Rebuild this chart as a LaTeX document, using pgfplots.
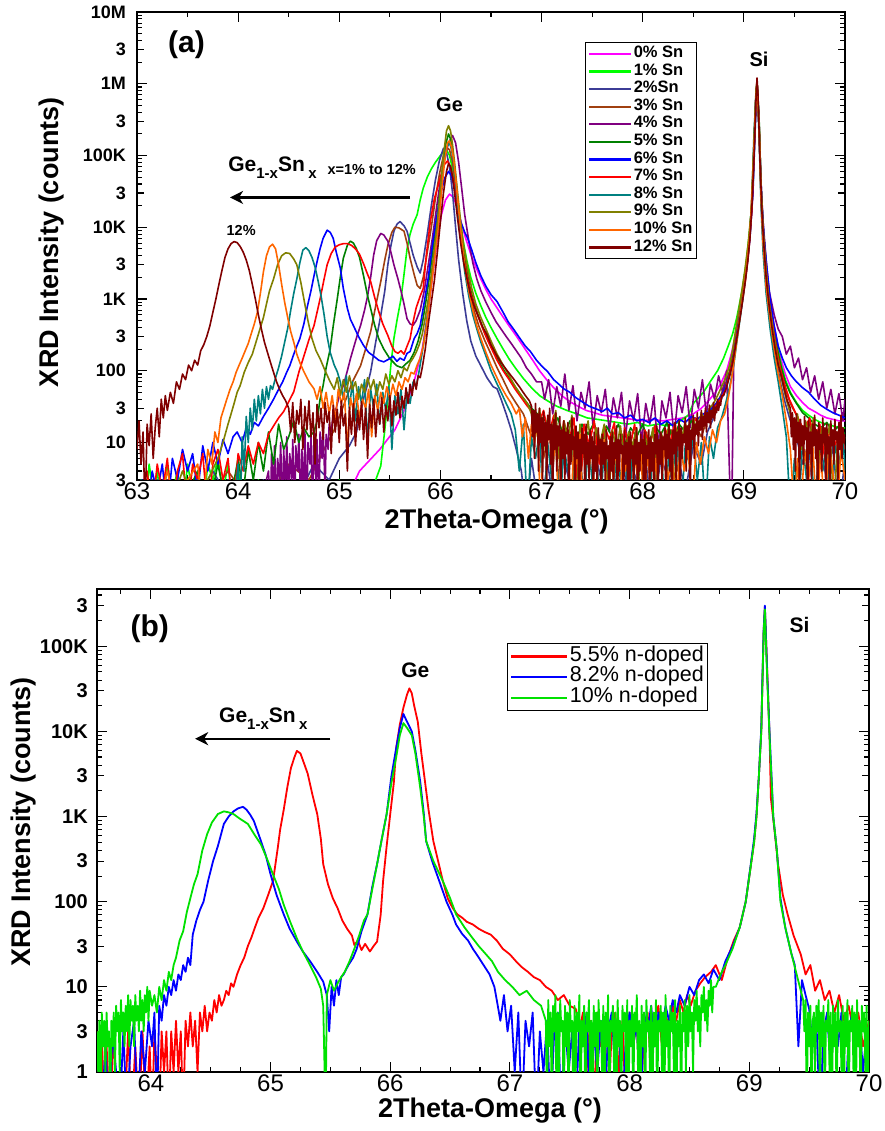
\documentclass[border=0pt]{standalone}
\usepackage{pgfplots}
\usepackage{pgfplotstable}
\pgfplotsset{compat=1.18}
\usepackage{fontspec}
\setmainfont{Liberation Sans}
\usetikzlibrary{arrows.meta}

\definecolor{c0}{RGB}{255,0,255}
\definecolor{c1}{RGB}{0,255,0}
\definecolor{c2}{RGB}{60,60,150}
\definecolor{c3}{RGB}{160,64,16}
\definecolor{c4}{RGB}{128,0,128}
\definecolor{c5}{RGB}{0,128,0}
\definecolor{c6}{RGB}{0,0,255}
\definecolor{c7}{RGB}{255,0,0}
\definecolor{c8}{RGB}{0,128,128}
\definecolor{c9}{RGB}{128,128,0}
\definecolor{c10}{RGB}{255,102,0}
\definecolor{c12}{RGB}{128,0,0}
\definecolor{gB}{RGB}{0,225,0}

% ---------- panel (a): Ge1-xSn x series ----------
\pgfplotstableread[row sep=\\]{x y\\
63.00 1\\ 63.20 3\\ 63.40 1\\ 63.60 3\\ 63.80 1\\ 64.00 3\\ 64.20 1\\ 64.40 3\\ 64.60 1\\ 64.80 3\\ 65.00 1\\ 65.20 4\\ 65.40 8\\ 65.55 15\\ 65.65 30\\ 65.75 80\\ 65.82 200\\ 65.88 700\\ 65.93 2500\\ 65.97 7000\\ 66.01 15000\\ 66.05 24000\\ 66.09 29000\\ 66.13 26000\\ 66.17 18000\\ 66.21 11000\\ 66.25 7000\\ 66.30 4200\\ 66.35 2800\\ 66.40 1900\\ 66.45 1350\\ 66.50 1000\\ 66.56 750\\ 66.62 560\\ 66.68 420\\ 66.74 320\\ 66.80 240\\ 66.86 180\\ 66.92 135\\ 66.98 100\\ 67.05 75\\ 67.12 58\\ 67.20 45\\ 67.28 37\\ 67.36 32\\ 67.44 28\\ 67.52 26\\ 67.60 24\\ 67.70 23\\ 67.80 22\\ 67.90 21\\ 68.00 20\\ 68.10 21\\ 68.20 20\\ 68.30 21\\ 68.40 22\\ 68.50 25\\ 68.58 30\\ 68.65 38\\ 68.72 50\\ 68.78 70\\ 68.83 100\\ 68.88 180\\ 68.92 330\\ 68.96 650\\ 68.99 1200\\ 69.02 2400\\ 69.05 6000\\ 69.08 22000\\ 69.10 130000\\ 69.12 700000\\ 69.13 1000000\\ 69.15 300000\\ 69.17 35000\\ 69.19 10000\\ 69.22 3000\\ 69.25 1200\\ 69.29 500\\ 69.33 250\\ 69.37 140\\ 69.41 90\\ 69.46 60\\ 69.52 45\\ 69.58 36\\ 69.64 30\\ 69.70 27\\ 69.76 24\\ 69.82 22\\ 69.88 21\\ 69.94 20\\ 70.00 20\\
}\snZero

\pgfplotstableread[row sep=\\]{x y\\
63.00 1\\ 63.04 3\\ 63.08 1\\ 63.12 5\\ 63.16 2\\ 63.20 4\\ 63.25 1\\ 63.30 5\\ 63.35 2\\ 63.40 4\\ 63.45 1\\ 63.50 5\\ 63.55 2\\ 63.60 4\\ 63.65 1\\ 63.70 5\\ 63.75 3\\ 63.80 6\\ 63.85 2\\ 63.90 5\\ 63.95 1\\ 64.00 4\\ 64.10 1\\ 64.20 3\\ 64.30 1\\ 64.40 3\\ 64.55 1\\ 64.70 3\\ 64.85 1\\ 65.00 3\\ 65.10 1\\ 65.20 3\\ 65.30 1\\ 65.36 3\\ 65.41 4.7\\ 65.45 15\\ 65.48 41\\ 65.51 120\\ 65.54 280\\ 65.57 500\\ 65.61 1000\\ 65.64 2200\\ 65.67 5000\\ 65.70 8000\\ 65.73 11000\\ 65.77 15000\\ 65.80 24000\\ 65.83 35000\\ 65.87 50000\\ 65.91 65000\\ 65.95 80000\\ 66.00 100000\\ 66.04 115000\\ 66.06 120000\\ 66.09 100000\\ 66.12 65000\\ 66.15 35000\\ 66.18 16000\\ 66.22 7000\\ 66.26 3500\\ 66.30 2000\\ 66.35 1200\\ 66.40 800\\ 66.45 550\\ 66.50 400\\ 66.56 280\\ 66.62 200\\ 66.68 145\\ 66.75 105\\ 66.82 78\\ 66.90 58\\ 66.98 45\\ 67.06 38\\ 67.15 32\\ 67.25 28\\ 67.35 25\\ 67.45 22\\ 67.55 21\\ 67.65 20\\ 67.75 19\\ 67.85 18\\ 67.95 19\\ 68.05 17\\ 68.15 18\\ 68.25 17\\ 68.35 19\\ 68.45 24\\ 68.50 35\\ 68.60 50\\ 68.68 75\\ 68.74 100\\ 68.80 150\\ 68.85 230\\ 68.89 330\\ 68.93 550\\ 68.96 900\\ 68.99 1500\\ 69.02 3000\\ 69.05 7000\\ 69.08 22000\\ 69.10 130000\\ 69.12 700000\\ 69.13 1050000\\ 69.15 300000\\ 69.17 35000\\ 69.19 10000\\ 69.22 3000\\ 69.25 1100\\ 69.29 450\\ 69.33 220\\ 69.37 120\\ 69.41 75\\ 69.46 50\\ 69.52 36\\ 69.58 28\\ 69.64 24\\ 69.70 21\\ 69.76 19\\ 69.82 18\\ 69.88 17\\ 69.94 16\\ 70.00 16\\
}\snOne

\pgfplotstableread[row sep=\\]{x y\\
63.00 1\\ 63.25 3\\ 63.50 1\\ 63.75 4\\ 64.00 1\\ 64.25 3\\ 64.50 1\\ 64.75 5\\ 64.90 3\\ 65.00 6\\ 65.10 9\\ 65.17 14\\ 65.24 41\\ 65.28 65\\ 65.31 97\\ 65.36 250\\ 65.41 590\\ 65.45 1300\\ 65.48 3000\\ 65.51 5500\\ 65.54 8800\\ 65.57 11000\\ 65.60 12000\\ 65.64 10500\\ 65.67 8800\\ 65.70 6000\\ 65.73 4100\\ 65.77 2800\\ 65.80 2300\\ 65.83 3500\\ 65.87 8000\\ 65.91 20000\\ 65.95 45000\\ 65.99 85000\\ 66.03 126000\\ 66.06 110000\\ 66.09 70000\\ 66.12 30000\\ 66.15 10000\\ 66.18 3500\\ 66.22 1200\\ 66.26 500\\ 66.30 260\\ 66.35 160\\ 66.40 117\\ 66.46 80\\ 66.52 60\\ 66.56 56\\ 66.60 40\\ 66.65 25\\ 66.70 15\\ 66.75 8\\ 66.80 4\\ 66.85 1\\ 66.90 6\\ 66.98 1\\ 67.06 5\\ 67.14 1\\ 67.22 6\\ 67.30 2\\ 67.38 5\\ 67.46 1\\ 67.54 6\\ 67.62 2\\ 67.70 5\\ 67.78 1\\ 67.86 6\\ 67.94 3\\ 68.02 7\\ 68.10 1\\ 68.18 6\\ 68.26 3\\ 68.34 8\\ 68.42 2\\ 68.50 9\\ 68.58 5\\ 68.64 14\\ 68.70 22\\ 68.76 35\\ 68.82 55\\ 68.86 90\\ 68.90 170\\ 68.93 320\\ 68.96 600\\ 68.99 1100\\ 69.02 2300\\ 69.05 5500\\ 69.08 20000\\ 69.10 120000\\ 69.12 650000\\ 69.13 950000\\ 69.15 250000\\ 69.17 25000\\ 69.19 7000\\ 69.22 1800\\ 69.25 650\\ 69.29 260\\ 69.33 120\\ 69.37 60\\ 69.41 35\\ 69.46 20\\ 69.52 12\\ 69.58 5\\ 69.64 10\\ 69.70 1\\ 69.76 8\\ 69.82 3\\ 69.88 9\\ 69.94 1\\ 70.00 6\\
}\snTwo

\pgfplotstableread[row sep=\\]{x y\\
63.00 1\\ 63.30 3\\ 63.60 1\\ 63.90 4\\ 64.20 1\\ 64.50 5\\ 64.70 3\\ 64.85 8\\ 64.95 15\\ 65.05 35\\ 65.13 70\\ 65.21 117\\ 65.26 200\\ 65.31 350\\ 65.36 800\\ 65.41 1750\\ 65.45 3500\\ 65.48 5600\\ 65.52 8500\\ 65.55 10000\\ 65.59 9800\\ 65.64 8800\\ 65.67 6000\\ 65.70 3700\\ 65.74 2200\\ 65.77 1550\\ 65.80 1400\\ 65.83 2000\\ 65.87 4500\\ 65.91 10000\\ 65.95 25000\\ 65.99 55000\\ 66.03 100000\\ 66.06 130000\\ 66.09 120000\\ 66.12 80000\\ 66.15 40000\\ 66.18 15000\\ 66.21 6000\\ 66.25 2500\\ 66.29 1200\\ 66.33 700\\ 66.38 420\\ 66.44 260\\ 66.50 170\\ 66.56 110\\ 66.62 75\\ 66.68 50\\ 66.75 35\\ 66.82 25\\ 66.90 12\\ 66.96 20\\ 67.02 6\\ 67.08 16\\ 67.14 1\\ 67.20 14\\ 67.26 8\\ 67.32 15\\ 67.38 3\\ 67.44 13\\ 67.50 7\\ 67.56 14\\ 67.62 1\\ 67.68 12\\ 67.74 6\\ 67.80 13\\ 67.86 3\\ 67.92 12\\ 67.98 7\\ 68.04 14\\ 68.10 1\\ 68.16 12\\ 68.22 8\\ 68.28 15\\ 68.34 4\\ 68.40 14\\ 68.46 9\\ 68.52 17\\ 68.58 12\\ 68.64 22\\ 68.70 30\\ 68.76 42\\ 68.81 60\\ 68.86 100\\ 68.90 190\\ 68.93 350\\ 68.96 650\\ 68.99 1200\\ 69.02 2500\\ 69.05 6000\\ 69.08 22000\\ 69.10 130000\\ 69.12 700000\\ 69.13 1000000\\ 69.15 280000\\ 69.17 30000\\ 69.19 9000\\ 69.22 2500\\ 69.25 900\\ 69.29 380\\ 69.33 170\\ 69.37 90\\ 69.41 55\\ 69.46 35\\ 69.52 24\\ 69.58 16\\ 69.64 20\\ 69.70 10\\ 69.76 16\\ 69.82 6\\ 69.88 14\\ 69.94 9\\ 70.00 12\\
}\snThree

\pgfplotstableread[row sep=\\]{x y\\
63.00 1\\ 63.30 3\\ 63.60 1\\ 63.90 3\\ 64.20 1\\ 64.30 4\\ 64.32 1\\ 64.33 7\\ 64.35 2\\ 64.36 9\\ 64.38 1\\ 64.39 6\\ 64.41 3\\ 64.42 10\\ 64.44 1\\ 64.45 8\\ 64.47 2\\ 64.48 12\\ 64.50 1\\ 64.51 7\\ 64.53 3\\ 64.54 11\\ 64.56 1\\ 64.57 9\\ 64.59 4\\ 64.60 13\\ 64.62 1\\ 64.63 8\\ 64.65 2\\ 64.66 14\\ 64.68 1\\ 64.69 10\\ 64.71 5\\ 64.72 12\\ 64.74 1\\ 64.75 16\\ 64.77 3\\ 64.78 11\\ 64.80 1\\ 64.81 14\\ 64.83 6\\ 64.84 17\\ 64.86 2\\ 64.87 13\\ 64.89 8\\ 64.90 18\\ 64.92 14\\ 64.94 25\\ 64.97 30\\ 65.00 45\\ 65.04 62\\ 65.08 100\\ 65.11 147\\ 65.15 230\\ 65.18 320\\ 65.21 425\\ 65.25 700\\ 65.28 1100\\ 65.31 2000\\ 65.34 4100\\ 65.37 6500\\ 65.41 8200\\ 65.44 7800\\ 65.48 6400\\ 65.51 4500\\ 65.54 3000\\ 65.58 1900\\ 65.61 1300\\ 65.64 850\\ 65.67 530\\ 65.70 450\\ 65.73 430\\ 65.76 500\\ 65.80 700\\ 65.84 1300\\ 65.88 3000\\ 65.92 7000\\ 65.96 18000\\ 66.00 45000\\ 66.04 90000\\ 66.08 150000\\ 66.12 190000\\ 66.15 150000\\ 66.18 80000\\ 66.21 35000\\ 66.24 15000\\ 66.28 6500\\ 66.32 3200\\ 66.36 1900\\ 66.40 1300\\ 66.45 900\\ 66.50 650\\ 66.55 480\\ 66.60 380\\ 66.65 300\\ 66.70 240\\ 66.75 190\\ 66.80 150\\ 66.85 110\\ 66.90 90\\ 66.95 70\\ 67.00 70\\ 67.03 40\\ 67.07 75\\ 67.11 25\\ 67.15 60\\ 67.19 32\\ 67.23 90\\ 67.27 28\\ 67.31 62\\ 67.35 20\\ 67.39 50\\ 67.43 30\\ 67.47 70\\ 67.51 16\\ 67.55 45\\ 67.59 26\\ 67.63 55\\ 67.67 14\\ 67.71 42\\ 67.75 22\\ 67.79 50\\ 67.83 12\\ 67.87 38\\ 67.91 20\\ 67.95 48\\ 67.99 10\\ 68.03 35\\ 68.07 18\\ 68.11 45\\ 68.15 8\\ 68.19 38\\ 68.23 22\\ 68.27 50\\ 68.31 12\\ 68.35 45\\ 68.39 26\\ 68.43 60\\ 68.47 16\\ 68.51 55\\ 68.55 30\\ 68.59 75\\ 68.63 25\\ 68.67 65\\ 68.71 40\\ 68.75 85\\ 68.79 50\\ 68.83 100\\ 68.86 3\\ 68.88 1\\ 68.90 150\\ 68.93 300\\ 68.96 550\\ 68.99 1100\\ 69.02 2200\\ 69.05 5500\\ 69.08 20000\\ 69.10 120000\\ 69.12 700000\\ 69.13 1000000\\ 69.15 300000\\ 69.17 40000\\ 69.19 12000\\ 69.22 3500\\ 69.25 1300\\ 69.30 600\\ 69.34 380\\ 69.38 300\\ 69.42 170\\ 69.46 220\\ 69.50 110\\ 69.54 150\\ 69.58 75\\ 69.62 110\\ 69.66 50\\ 69.70 85\\ 69.74 40\\ 69.78 70\\ 69.82 30\\ 69.86 55\\ 69.90 25\\ 69.94 48\\ 69.98 20\\ 70.00 40\\
}\snFour

\pgfplotstableread[row sep=\\]{x y\\
63.00 1\\ 63.20 3\\ 63.40 1\\ 63.60 4\\ 63.70 1\\ 63.80 5\\ 63.90 1\\ 64.00 6\\ 64.05 2\\ 64.10 8\\ 64.15 3\\ 64.20 10\\ 64.25 4\\ 64.30 14\\ 64.35 5\\ 64.40 18\\ 64.45 8\\ 64.50 12\\ 64.55 20\\ 64.60 10\\ 64.65 16\\ 64.70 12\\ 64.75 14\\ 64.78 20\\ 64.81 40\\ 64.84 62\\ 64.87 110\\ 64.91 200\\ 64.94 420\\ 64.98 1000\\ 65.01 2000\\ 65.04 3700\\ 65.08 5600\\ 65.11 6400\\ 65.14 6000\\ 65.17 5000\\ 65.20 3800\\ 65.24 2100\\ 65.28 1100\\ 65.31 740\\ 65.35 430\\ 65.39 280\\ 65.44 200\\ 65.50 147\\ 65.57 117\\ 65.62 110\\ 65.66 125\\ 65.70 140\\ 65.74 180\\ 65.78 260\\ 65.82 450\\ 65.86 1000\\ 65.90 2500\\ 65.94 7000\\ 65.98 20000\\ 66.02 60000\\ 66.05 140000\\ 66.08 200000\\ 66.10 170000\\ 66.12 110000\\ 66.15 50000\\ 66.18 18000\\ 66.21 7000\\ 66.25 3000\\ 66.29 1500\\ 66.33 900\\ 66.38 550\\ 66.44 330\\ 66.50 220\\ 66.57 140\\ 66.64 95\\ 66.72 65\\ 66.80 45\\ 66.88 32\\ 66.96 25\\ 67.04 20\\ 67.10 16\\ 67.16 22\\ 67.22 12\\ 67.28 20\\ 67.34 10\\ 67.40 18\\ 67.46 13\\ 67.52 19\\ 67.58 8\\ 67.64 17\\ 67.70 12\\ 67.76 18\\ 67.82 9\\ 67.88 16\\ 67.94 12\\ 68.00 18\\ 68.06 10\\ 68.12 17\\ 68.18 13\\ 68.24 19\\ 68.30 11\\ 68.36 18\\ 68.42 14\\ 68.48 20\\ 68.54 16\\ 68.60 23\\ 68.66 26\\ 68.72 33\\ 68.78 45\\ 68.83 65\\ 68.87 110\\ 68.91 210\\ 68.94 400\\ 68.97 750\\ 69.00 1500\\ 69.03 3000\\ 69.06 7500\\ 69.09 35000\\ 69.11 250000\\ 69.13 1050000\\ 69.15 350000\\ 69.17 35000\\ 69.19 10000\\ 69.22 2800\\ 69.25 1000\\ 69.29 420\\ 69.33 200\\ 69.37 110\\ 69.41 70\\ 69.46 48\\ 69.52 35\\ 69.58 26\\ 69.64 22\\ 69.70 18\\ 69.76 16\\ 69.82 19\\ 69.88 14\\ 69.94 17\\ 70.00 13\\
}\snFive

\pgfplotstableread[row sep=\\]{x y\\
63.00 1\\ 63.05 3\\ 63.10 1\\ 63.15 4\\ 63.20 2\\ 63.25 5\\ 63.30 1\\ 63.35 6\\ 63.40 3\\ 63.45 8\\ 63.50 4\\ 63.55 7\\ 63.60 2\\ 63.65 9\\ 63.70 4\\ 63.75 10\\ 63.80 5\\ 63.85 11\\ 63.90 7\\ 63.95 12\\ 63.99 14\\ 64.04 10\\ 64.08 16\\ 64.12 13\\ 64.16 19\\ 64.20 17\\ 64.25 23\\ 64.30 30\\ 64.35 40\\ 64.40 55\\ 64.44 70\\ 64.48 95\\ 64.51 117\\ 64.55 170\\ 64.58 220\\ 64.61 280\\ 64.65 450\\ 64.68 740\\ 64.72 1300\\ 64.75 2100\\ 64.78 3300\\ 64.81 5000\\ 64.84 7000\\ 64.88 9100\\ 64.91 8500\\ 64.94 7000\\ 64.97 4500\\ 65.01 2700\\ 65.04 1400\\ 65.08 740\\ 65.11 520\\ 65.14 425\\ 65.19 300\\ 65.24 225\\ 65.29 180\\ 65.34 160\\ 65.39 140\\ 65.44 133\\ 65.49 145\\ 65.53 160\\ 65.57 135\\ 65.60 150\\ 65.64 140\\ 65.67 175\\ 65.70 185\\ 65.74 280\\ 65.77 330\\ 65.80 425\\ 65.84 900\\ 65.88 2000\\ 65.92 5500\\ 65.96 13000\\ 66.00 28000\\ 66.04 48000\\ 66.08 60000\\ 66.11 52000\\ 66.14 35000\\ 66.17 20000\\ 66.20 12000\\ 66.24 8500\\ 66.27 7000\\ 66.31 4800\\ 66.35 3200\\ 66.40 2100\\ 66.45 1500\\ 66.50 1150\\ 66.56 920\\ 66.62 650\\ 66.67 480\\ 66.72 385\\ 66.78 290\\ 66.84 220\\ 66.89 185\\ 66.95 140\\ 67.00 117\\ 67.06 97\\ 67.12 75\\ 67.17 65\\ 67.22 56\\ 67.28 50\\ 67.34 42\\ 67.40 37\\ 67.47 32\\ 67.55 29\\ 67.60 27\\ 67.65 30\\ 67.70 25\\ 67.76 26\\ 67.82 22\\ 67.88 24\\ 67.94 20\\ 68.00 21\\ 68.06 19\\ 68.12 22\\ 68.18 18\\ 68.24 20\\ 68.30 17\\ 68.36 21\\ 68.42 19\\ 68.48 23\\ 68.54 21\\ 68.60 25\\ 68.66 28\\ 68.72 34\\ 68.78 45\\ 68.83 65\\ 68.87 100\\ 68.91 200\\ 68.94 400\\ 68.97 700\\ 69.00 1400\\ 69.03 2800\\ 69.06 7000\\ 69.09 30000\\ 69.11 200000\\ 69.13 1000000\\ 69.14 600000\\ 69.16 90000\\ 69.18 20000\\ 69.20 7000\\ 69.23 2500\\ 69.26 1000\\ 69.30 420\\ 69.34 220\\ 69.38 150\\ 69.42 110\\ 69.47 85\\ 69.52 70\\ 69.58 58\\ 69.64 50\\ 69.70 40\\ 69.76 33\\ 69.82 29\\ 69.88 26\\ 69.94 24\\ 70.00 22\\
}\snSix

\pgfplotstableread[row sep=\\]{x y\\
63.00 1\\ 63.10 4\\ 63.15 1\\ 63.20 5\\ 63.25 2\\ 63.30 6\\ 63.35 1\\ 63.40 4\\ 63.45 7\\ 63.50 1\\ 63.55 5\\ 63.60 3\\ 63.65 7\\ 63.70 1\\ 63.75 5\\ 63.80 8\\ 63.85 3\\ 63.90 6\\ 63.95 1\\ 64.00 7\\ 64.05 4\\ 64.10 9\\ 64.15 5\\ 64.20 10\\ 64.25 7\\ 64.30 13\\ 64.35 17\\ 64.40 22\\ 64.45 27\\ 64.50 37\\ 64.55 51\\ 64.60 95\\ 64.65 160\\ 64.70 270\\ 64.75 425\\ 64.78 650\\ 64.81 1000\\ 64.85 1900\\ 64.88 3000\\ 64.92 4300\\ 64.96 5300\\ 65.00 5700\\ 65.04 5900\\ 65.08 5900\\ 65.12 5600\\ 65.16 5000\\ 65.20 4200\\ 65.24 3100\\ 65.28 2200\\ 65.31 1750\\ 65.35 1050\\ 65.39 670\\ 65.43 450\\ 65.48 310\\ 65.52 220\\ 65.55 185\\ 65.58 175\\ 65.61 190\\ 65.64 170\\ 65.67 220\\ 65.70 280\\ 65.73 480\\ 65.76 750\\ 65.80 1100\\ 65.83 1400\\ 65.86 4000\\ 65.90 12000\\ 65.94 25000\\ 65.97 35000\\ 66.00 50000\\ 66.04 75000\\ 66.07 84000\\ 66.10 70000\\ 66.13 45000\\ 66.16 22000\\ 66.19 9000\\ 66.22 4500\\ 66.26 2200\\ 66.30 1200\\ 66.35 700\\ 66.40 450\\ 66.45 300\\ 66.50 210\\ 66.56 140\\ 66.62 100\\ 66.68 75\\ 66.74 55\\ 66.80 42\\ 66.86 32\\ 66.92 26\\ 66.97 18\\ 67.02 28\\ 67.07 12\\ 67.12 24\\ 67.17 6\\ 67.22 20\\ 67.27 10\\ 67.32 22\\ 67.37 1\\ 67.42 18\\ 67.47 9\\ 67.52 20\\ 67.57 5\\ 67.62 17\\ 67.67 11\\ 67.72 19\\ 67.77 1\\ 67.82 16\\ 67.87 8\\ 67.92 18\\ 67.97 4\\ 68.02 15\\ 68.07 9\\ 68.12 17\\ 68.17 1\\ 68.22 16\\ 68.27 10\\ 68.32 19\\ 68.37 6\\ 68.42 18\\ 68.47 12\\ 68.52 22\\ 68.57 15\\ 68.62 26\\ 68.67 22\\ 68.72 32\\ 68.77 40\\ 68.82 55\\ 68.86 90\\ 68.90 160\\ 68.93 300\\ 68.96 550\\ 68.99 1000\\ 69.02 2000\\ 69.05 5000\\ 69.08 18000\\ 69.10 100000\\ 69.12 700000\\ 69.13 1100000\\ 69.15 250000\\ 69.17 30000\\ 69.19 9000\\ 69.22 2500\\ 69.25 900\\ 69.29 380\\ 69.33 180\\ 69.37 95\\ 69.41 60\\ 69.45 40\\ 69.50 28\\ 69.55 20\\ 69.60 14\\ 69.65 22\\ 69.70 10\\ 69.75 18\\ 69.80 6\\ 69.85 15\\ 69.90 9\\ 69.95 16\\ 70.00 8\\
}\snSeven

\pgfplotstableread[row sep=\\]{x y\\
63.00 1\\ 63.20 3\\ 63.40 1\\ 63.60 3\\ 63.80 1\\ 63.90 3\\ 63.95 1\\ 64.00 5\\ 64.02 1\\ 64.04 12\\ 64.06 4\\ 64.08 23\\ 64.10 10\\ 64.12 30\\ 64.14 15\\ 64.16 40\\ 64.18 20\\ 64.20 45\\ 64.22 25\\ 64.24 55\\ 64.26 30\\ 64.28 60\\ 64.30 40\\ 64.32 62\\ 64.34 55\\ 64.37 80\\ 64.40 110\\ 64.43 160\\ 64.46 250\\ 64.49 390\\ 64.52 700\\ 64.55 1200\\ 64.58 1900\\ 64.61 3200\\ 64.64 4800\\ 64.67 5200\\ 64.70 4700\\ 64.73 3800\\ 64.76 2800\\ 64.79 1800\\ 64.82 1100\\ 64.85 600\\ 64.88 300\\ 64.91 180\\ 64.95 120\\ 64.98 97\\ 65.01 70\\ 65.04 40\\ 65.07 85\\ 65.10 30\\ 65.13 70\\ 65.16 20\\ 65.19 60\\ 65.22 35\\ 65.25 75\\ 65.28 10\\ 65.31 55\\ 65.34 30\\ 65.37 65\\ 65.40 18\\ 65.43 50\\ 65.46 28\\ 65.49 60\\ 65.52 8\\ 65.55 45\\ 65.58 25\\ 65.61 55\\ 65.64 15\\ 65.67 50\\ 65.70 35\\ 65.73 70\\ 65.76 60\\ 65.79 100\\ 65.82 180\\ 65.85 350\\ 65.88 750\\ 65.91 1700\\ 65.94 4000\\ 65.97 10000\\ 66.00 28000\\ 66.03 70000\\ 66.06 130000\\ 66.09 150000\\ 66.11 120000\\ 66.13 80000\\ 66.15 45000\\ 66.18 15000\\ 66.21 5500\\ 66.24 2400\\ 66.28 1100\\ 66.32 600\\ 66.36 380\\ 66.40 250\\ 66.45 160\\ 66.50 100\\ 66.55 70\\ 66.60 50\\ 66.65 35\\ 66.70 25\\ 66.74 15\\ 66.78 4\\ 66.82 18\\ 66.86 1\\ 66.90 12\\ 66.94 6\\ 66.98 14\\ 67.02 1\\ 67.06 10\\ 67.10 3\\ 67.14 12\\ 67.18 1\\ 67.22 9\\ 67.26 4\\ 67.30 11\\ 67.34 1\\ 67.38 8\\ 67.42 1\\ 67.46 10\\ 67.50 3\\ 67.54 8\\ 67.58 1\\ 67.62 9\\ 67.66 4\\ 67.70 1\\ 67.74 8\\ 67.78 3\\ 67.82 10\\ 67.86 1\\ 67.90 7\\ 67.94 1\\ 67.98 9\\ 68.02 4\\ 68.06 1\\ 68.10 8\\ 68.14 3\\ 68.18 10\\ 68.22 1\\ 68.26 8\\ 68.30 4\\ 68.34 11\\ 68.38 1\\ 68.42 9\\ 68.46 5\\ 68.50 12\\ 68.54 3\\ 68.58 10\\ 68.62 1\\ 68.66 12\\ 68.70 6\\ 68.74 16\\ 68.78 22\\ 68.82 35\\ 68.86 60\\ 68.90 120\\ 68.93 250\\ 68.96 500\\ 68.99 1000\\ 69.02 2200\\ 69.05 5500\\ 69.08 25000\\ 69.10 200000\\ 69.12 700000\\ 69.13 1000000\\ 69.15 200000\\ 69.17 20000\\ 69.19 4500\\ 69.22 1200\\ 69.26 380\\ 69.30 150\\ 69.34 70\\ 69.38 30\\ 69.42 12\\ 69.46 1\\ 69.50 6\\ 69.54 1\\ 69.58 10\\ 69.62 3\\ 69.66 12\\ 69.70 1\\ 69.74 8\\ 69.78 4\\ 69.82 10\\ 69.86 1\\ 69.90 9\\ 69.94 5\\ 69.98 12\\ 70.00 4\\
}\snEight

\pgfplotstableread[row sep=\\]{x y\\
63.00 1\\ 63.15 3\\ 63.30 1\\ 63.45 4\\ 63.60 1\\ 63.70 3\\ 63.80 6\\ 63.85 10\\ 63.90 18\\ 63.93 25\\ 63.96 35\\ 63.99 50\\ 64.02 62\\ 64.06 95\\ 64.10 130\\ 64.14 170\\ 64.18 260\\ 64.22 400\\ 64.25 550\\ 64.28 850\\ 64.31 1300\\ 64.35 1900\\ 64.39 3000\\ 64.43 4000\\ 64.47 4400\\ 64.51 4300\\ 64.55 3600\\ 64.58 3000\\ 64.62 1700\\ 64.65 1000\\ 64.69 500\\ 64.73 280\\ 64.77 190\\ 64.81 147\\ 64.86 100\\ 64.91 70\\ 64.95 55\\ 64.98 80\\ 65.01 45\\ 65.04 75\\ 65.07 50\\ 65.10 85\\ 65.13 55\\ 65.16 70\\ 65.19 40\\ 65.22 65\\ 65.25 50\\ 65.28 80\\ 65.31 55\\ 65.34 75\\ 65.37 45\\ 65.40 70\\ 65.43 55\\ 65.46 90\\ 65.49 65\\ 65.52 85\\ 65.55 70\\ 65.58 100\\ 65.61 80\\ 65.64 110\\ 65.67 100\\ 65.70 130\\ 65.73 150\\ 65.76 180\\ 65.79 230\\ 65.82 320\\ 65.85 550\\ 65.88 1000\\ 65.91 2200\\ 65.94 5000\\ 65.97 12000\\ 66.00 35000\\ 66.03 100000\\ 66.06 220000\\ 66.08 260000\\ 66.10 220000\\ 66.12 140000\\ 66.14 80000\\ 66.17 30000\\ 66.20 12000\\ 66.23 5500\\ 66.27 2600\\ 66.31 1400\\ 66.35 850\\ 66.40 550\\ 66.45 380\\ 66.50 260\\ 66.56 170\\ 66.62 120\\ 66.68 85\\ 66.74 60\\ 66.80 45\\ 66.86 35\\ 66.90 25\\ 66.94 12\\ 66.98 30\\ 67.02 8\\ 67.06 22\\ 67.10 14\\ 67.14 28\\ 67.18 5\\ 67.22 20\\ 67.26 11\\ 67.30 24\\ 67.34 1\\ 67.38 18\\ 67.42 9\\ 67.46 20\\ 67.50 6\\ 67.54 16\\ 67.58 10\\ 67.62 18\\ 67.66 1\\ 67.70 15\\ 67.74 8\\ 67.78 17\\ 67.82 5\\ 67.86 14\\ 67.90 9\\ 67.94 16\\ 67.98 1\\ 68.02 13\\ 68.06 7\\ 68.10 16\\ 68.14 4\\ 68.18 14\\ 68.22 9\\ 68.26 18\\ 68.30 1\\ 68.34 15\\ 68.38 10\\ 68.42 20\\ 68.46 8\\ 68.50 22\\ 68.54 14\\ 68.58 26\\ 68.62 18\\ 68.66 30\\ 68.70 35\\ 68.74 45\\ 68.78 60\\ 68.82 80\\ 68.86 120\\ 68.89 200\\ 68.92 380\\ 68.95 700\\ 68.98 1300\\ 69.01 2500\\ 69.04 5500\\ 69.07 15000\\ 69.10 150000\\ 69.12 800000\\ 69.13 1050000\\ 69.15 300000\\ 69.17 40000\\ 69.19 10000\\ 69.22 2500\\ 69.25 900\\ 69.29 350\\ 69.33 160\\ 69.37 80\\ 69.41 45\\ 69.45 28\\ 69.49 15\\ 69.53 25\\ 69.57 8\\ 69.61 20\\ 69.65 12\\ 69.69 22\\ 69.73 4\\ 69.77 16\\ 69.81 10\\ 69.85 18\\ 69.89 1\\ 69.93 14\\ 69.97 9\\ 70.00 12\\
}\snNine

\pgfplotstableread[row sep=\\]{x y\\
63.00 1\\ 63.10 3\\ 63.20 1\\ 63.30 4\\ 63.40 1\\ 63.50 3\\ 63.60 5\\ 63.65 1\\ 63.70 8\\ 63.74 5\\ 63.77 14\\ 63.80 10\\ 63.83 22\\ 63.86 30\\ 63.89 41\\ 63.92 55\\ 63.95 70\\ 63.98 95\\ 64.01 120\\ 64.04 150\\ 64.07 190\\ 64.10 240\\ 64.13 330\\ 64.16 450\\ 64.19 650\\ 64.22 1200\\ 64.25 2400\\ 64.28 4000\\ 64.31 5300\\ 64.34 5800\\ 64.37 5000\\ 64.40 3000\\ 64.43 1600\\ 64.46 900\\ 64.49 550\\ 64.52 350\\ 64.55 250\\ 64.58 170\\ 64.61 130\\ 64.65 97\\ 64.70 70\\ 64.75 56\\ 64.78 40\\ 64.81 60\\ 64.84 30\\ 64.87 50\\ 64.90 25\\ 64.93 45\\ 64.96 20\\ 64.99 55\\ 65.02 35\\ 65.05 50\\ 65.08 8\\ 65.11 42\\ 65.14 28\\ 65.17 48\\ 65.20 22\\ 65.23 40\\ 65.26 30\\ 65.29 55\\ 65.32 12\\ 65.35 45\\ 65.38 28\\ 65.41 50\\ 65.44 35\\ 65.47 60\\ 65.50 40\\ 65.53 65\\ 65.56 45\\ 65.59 70\\ 65.62 55\\ 65.65 80\\ 65.68 70\\ 65.71 95\\ 65.74 90\\ 65.77 120\\ 65.80 150\\ 65.83 220\\ 65.86 400\\ 65.89 900\\ 65.92 2000\\ 65.95 4500\\ 65.98 10000\\ 66.01 30000\\ 66.04 80000\\ 66.07 150000\\ 66.09 160000\\ 66.11 130000\\ 66.13 90000\\ 66.15 50000\\ 66.18 18000\\ 66.21 6500\\ 66.24 2800\\ 66.28 1300\\ 66.32 700\\ 66.36 420\\ 66.40 280\\ 66.45 180\\ 66.50 120\\ 66.55 85\\ 66.60 60\\ 66.65 45\\ 66.70 35\\ 66.75 25\\ 66.78 30\\ 66.81 12\\ 66.84 22\\ 66.87 6\\ 66.90 18\\ 66.93 10\\ 66.96 20\\ 66.99 1\\ 67.02 15\\ 67.05 8\\ 67.08 17\\ 67.11 4\\ 67.14 13\\ 67.17 1\\ 67.20 12\\ 67.23 6\\ 67.26 14\\ 67.29 1\\ 67.32 11\\ 67.35 5\\ 67.38 13\\ 67.41 1\\ 67.44 10\\ 67.47 4\\ 67.50 12\\ 67.53 1\\ 67.56 9\\ 67.59 5\\ 67.62 11\\ 67.65 1\\ 67.68 8\\ 67.71 3\\ 67.74 10\\ 67.77 1\\ 67.80 8\\ 67.83 4\\ 67.86 9\\ 67.89 1\\ 67.92 7\\ 67.95 3\\ 67.98 10\\ 68.01 1\\ 68.05 8\\ 68.09 1\\ 68.13 6\\ 68.17 1\\ 68.21 9\\ 68.25 3\\ 68.29 8\\ 68.33 1\\ 68.37 10\\ 68.41 4\\ 68.45 8\\ 68.49 1\\ 68.53 10\\ 68.57 5\\ 68.61 12\\ 68.65 7\\ 68.69 15\\ 68.73 10\\ 68.77 20\\ 68.81 25\\ 68.85 45\\ 68.88 80\\ 68.91 160\\ 68.94 330\\ 68.97 700\\ 69.00 1400\\ 69.03 3000\\ 69.06 8000\\ 69.09 50000\\ 69.11 300000\\ 69.13 1000000\\ 69.15 250000\\ 69.17 25000\\ 69.19 6000\\ 69.22 1500\\ 69.26 500\\ 69.30 200\\ 69.34 90\\ 69.38 45\\ 69.42 20\\ 69.46 8\\ 69.50 1\\ 69.53 6\\ 69.56 1\\ 69.60 8\\ 69.64 3\\ 69.68 10\\ 69.72 1\\ 69.76 7\\ 69.80 1\\ 69.84 9\\ 69.88 4\\ 69.92 1\\ 69.96 8\\ 70.00 3\\
}\snTen

\pgfplotstableread[row sep=\\]{x y\\
63.00 8\\ 63.02 20\\ 63.04 5\\ 63.06 14\\ 63.08 1\\ 63.10 18\\ 63.12 9\\ 63.14 25\\ 63.16 6\\ 63.18 16\\ 63.20 30\\ 63.22 12\\ 63.24 40\\ 63.26 22\\ 63.28 45\\ 63.30 28\\ 63.33 50\\ 63.36 35\\ 63.39 70\\ 63.42 55\\ 63.45 90\\ 63.48 75\\ 63.51 120\\ 63.54 100\\ 63.57 140\\ 63.60 120\\ 63.63 190\\ 63.66 230\\ 63.69 300\\ 63.72 420\\ 63.75 650\\ 63.78 1000\\ 63.81 1600\\ 63.84 2500\\ 63.87 3800\\ 63.90 5000\\ 63.93 5900\\ 63.96 6300\\ 63.99 6100\\ 64.02 5400\\ 64.05 4500\\ 64.08 3500\\ 64.11 2500\\ 64.14 1600\\ 64.17 1000\\ 64.20 600\\ 64.23 380\\ 64.26 250\\ 64.29 180\\ 64.32 130\\ 64.35 95\\ 64.38 70\\ 64.41 55\\ 64.44 45\\ 64.47 38\\ 64.50 30\\ 64.52 14\\ 64.54 36\\ 64.56 10\\ 64.58 28\\ 64.60 18\\ 64.62 40\\ 64.64 8\\ 64.66 32\\ 64.68 15\\ 64.70 38\\ 64.72 12\\ 64.74 26\\ 64.76 5\\ 64.78 34\\ 64.80 16\\ 64.82 30\\ 64.84 11\\ 64.86 36\\ 64.88 19\\ 64.90 27\\ 64.92 7\\ 64.94 33\\ 64.96 14\\ 64.98 29\\ 65.00 10\\ 65.02 38\\ 65.04 17\\ 65.06 25\\ 65.08 4\\ 65.10 31\\ 65.12 13\\ 65.14 35\\ 65.16 9\\ 65.18 28\\ 65.20 15\\ 65.22 37\\ 65.24 11\\ 65.26 30\\ 65.28 6\\ 65.30 34\\ 65.32 16\\ 65.34 40\\ 65.36 12\\ 65.38 29\\ 65.40 18\\ 65.42 42\\ 65.44 14\\ 65.46 33\\ 65.48 20\\ 65.50 45\\ 65.52 17\\ 65.54 38\\ 65.56 24\\ 65.58 50\\ 65.60 22\\ 65.62 44\\ 65.64 30\\ 65.66 58\\ 65.68 35\\ 65.70 65\\ 65.72 45\\ 65.74 75\\ 65.76 55\\ 65.78 85\\ 65.80 80\\ 65.82 110\\ 65.85 200\\ 65.88 450\\ 65.91 900\\ 65.94 1800\\ 65.97 4500\\ 66.00 12000\\ 66.03 30000\\ 66.06 60000\\ 66.08 77000\\ 66.10 70000\\ 66.12 50000\\ 66.14 30000\\ 66.17 13000\\ 66.20 6000\\ 66.23 3200\\ 66.26 2000\\ 66.30 1100\\ 66.34 750\\ 66.38 550\\ 66.42 400\\ 66.46 320\\ 66.50 230\\ 66.55 170\\ 66.60 130\\ 66.66 100\\ 66.72 78\\ 66.78 60\\ 66.84 45\\ 66.88 38\\ 66.90 32\\ 66.91 12\\ 66.92 28\\ 66.93 6\\ 66.94 35\\ 66.95 14\\ 66.96 25\\ 66.97 4\\ 66.98 30\\ 66.99 10\\ 67.00 22\\ 67.01 3\\ 67.02 27\\ 67.03 9\\ 67.04 19\\ 67.05 2\\ 67.06 24\\ 67.07 11\\ 67.08 30\\ 67.09 5\\ 67.10 18\\ 67.11 1\\ 67.12 21\\ 67.13 8\\ 67.14 26\\ 67.15 4\\ 67.16 17\\ 67.17 9\\ 67.18 23\\ 67.19 1\\ 67.20 15\\ 67.21 6\\ 67.22 20\\ 67.23 3\\ 67.24 14\\ 67.25 7\\ 67.26 19\\ 67.27 1\\ 67.28 13\\ 67.29 5\\ 67.30 22\\ 67.31 8\\ 67.32 12\\ 67.33 2\\ 67.34 17\\ 67.35 6\\ 67.36 14\\ 67.37 1\\ 67.38 11\\ 67.39 4\\ 67.40 16\\ 67.41 7\\ 67.42 13\\ 67.43 1\\ 67.44 18\\ 67.45 5\\ 67.46 10\\ 67.47 3\\ 67.48 15\\ 67.49 6\\ 67.50 12\\ 67.51 1\\ 67.52 14\\ 67.53 4\\ 67.54 9\\ 67.55 2\\ 67.56 16\\ 67.57 7\\ 67.58 11\\ 67.59 1\\ 67.60 13\\ 67.61 5\\ 67.62 10\\ 67.63 3\\ 67.64 15\\ 67.65 6\\ 67.66 9\\ 67.67 1\\ 67.68 12\\ 67.69 4\\ 67.70 14\\ 67.71 2\\ 67.72 10\\ 67.73 6\\ 67.74 17\\ 67.75 1\\ 67.76 11\\ 67.77 4\\ 67.78 13\\ 67.79 7\\ 67.80 9\\ 67.81 1\\ 67.82 15\\ 67.83 5\\ 67.84 10\\ 67.85 3\\ 67.86 12\\ 67.87 1\\ 67.88 14\\ 67.89 6\\ 67.90 9\\ 67.91 2\\ 67.92 11\\ 67.93 5\\ 67.94 16\\ 67.95 1\\ 67.96 10\\ 67.97 4\\ 67.98 13\\ 67.99 7\\ 68.00 11\\ 68.01 1\\ 68.02 14\\ 68.03 3\\ 68.04 9\\ 68.05 6\\ 68.06 15\\ 68.07 1\\ 68.08 12\\ 68.09 4\\ 68.10 10\\ 68.11 2\\ 68.12 13\\ 68.13 7\\ 68.14 17\\ 68.15 1\\ 68.16 11\\ 68.17 5\\ 68.18 14\\ 68.19 3\\ 68.20 12\\ 68.21 8\\ 68.22 16\\ 68.23 1\\ 68.24 13\\ 68.25 6\\ 68.26 18\\ 68.27 4\\ 68.28 11\\ 68.29 1\\ 68.30 15\\ 68.31 7\\ 68.32 19\\ 68.33 3\\ 68.34 14\\ 68.35 9\\ 68.36 20\\ 68.37 1\\ 68.38 16\\ 68.39 6\\ 68.40 13\\ 68.41 10\\ 68.42 22\\ 68.43 4\\ 68.44 17\\ 68.45 8\\ 68.46 21\\ 68.47 2\\ 68.48 15\\ 68.49 11\\ 68.50 24\\ 68.51 6\\ 68.52 18\\ 68.53 13\\ 68.54 26\\ 68.55 9\\ 68.56 20\\ 68.57 15\\ 68.58 28\\ 68.59 11\\ 68.60 23\\ 68.61 17\\ 68.62 30\\ 68.63 14\\ 68.64 26\\ 68.65 19\\ 68.66 33\\ 68.67 16\\ 68.68 28\\ 68.69 22\\ 68.70 36\\ 68.71 20\\ 68.72 31\\ 68.73 26\\ 68.74 40\\ 68.75 28\\ 68.76 36\\ 68.77 33\\ 68.78 45\\ 68.80 45\\ 68.83 60\\ 68.86 85\\ 68.89 130\\ 68.92 230\\ 68.95 420\\ 68.98 800\\ 69.01 1600\\ 69.04 3500\\ 69.06 7000\\ 69.08 20000\\ 69.10 90000\\ 69.12 600000\\ 69.13 1200000\\ 69.14 700000\\ 69.16 80000\\ 69.18 15000\\ 69.20 5000\\ 69.22 2000\\ 69.25 800\\ 69.28 380\\ 69.31 200\\ 69.34 120\\ 69.37 85\\ 69.40 55\\ 69.43 38\\ 69.46 30\\ 69.47 12\\ 69.48 26\\ 69.49 8\\ 69.50 22\\ 69.51 4\\ 69.52 25\\ 69.53 10\\ 69.54 19\\ 69.55 2\\ 69.56 21\\ 69.57 9\\ 69.58 17\\ 69.59 5\\ 69.60 23\\ 69.61 11\\ 69.62 16\\ 69.63 1\\ 69.64 20\\ 69.65 7\\ 69.66 14\\ 69.67 3\\ 69.68 18\\ 69.69 9\\ 69.70 24\\ 69.71 6\\ 69.72 15\\ 69.73 1\\ 69.74 19\\ 69.75 8\\ 69.76 13\\ 69.77 4\\ 69.78 22\\ 69.79 10\\ 69.80 16\\ 69.81 2\\ 69.82 18\\ 69.83 7\\ 69.84 12\\ 69.85 1\\ 69.86 20\\ 69.87 9\\ 69.88 15\\ 69.89 5\\ 69.90 21\\ 69.91 11\\ 69.92 14\\ 69.93 3\\ 69.94 19\\ 69.95 8\\ 69.96 24\\ 69.97 6\\ 69.98 16\\ 69.99 10\\ 70.00 13\\
}\snTwelve

% ---------- panel (b): n-doped layers ----------
\pgfplotstableread[row sep=\\]{x y\\
63.55 3\\ 63.57 0.3\\ 63.59 3\\ 63.61 0.3\\ 63.63 2\\ 63.66 0.3\\ 63.69 3\\ 63.72 0.3\\ 63.75 1\\ 63.78 0.3\\ 63.81 3\\ 63.84 0.3\\ 63.87 2\\ 63.90 0.3\\ 63.93 3\\ 63.96 0.3\\ 63.99 2\\ 64.01 0.3\\ 64.03 3\\ 64.05 1\\ 64.07 0.3\\ 64.09 3\\ 64.11 1\\ 64.13 3\\ 64.15 0.3\\ 64.17 3\\ 64.19 1\\ 64.21 4\\ 64.23 1\\ 64.25 3\\ 64.27 0.3\\ 64.29 4\\ 64.31 2\\ 64.33 5\\ 64.35 2\\ 64.37 4\\ 64.39 1\\ 64.41 5\\ 64.43 3\\ 64.45 6\\ 64.47 3\\ 64.49 5\\ 64.51 4\\ 64.53 7\\ 64.55 5\\ 64.57 8\\ 64.59 6\\ 64.61 7\\ 64.63 9\\ 64.65 8\\ 64.67 11\\ 64.69 10\\ 64.72 14\\ 64.75 18\\ 64.78 22\\ 64.81 30\\ 64.84 38\\ 64.87 50\\ 64.90 65\\ 64.94 84\\ 64.98 120\\ 65.02 174\\ 65.04 270\\ 65.06 425\\ 65.08 700\\ 65.11 1200\\ 65.14 2200\\ 65.17 3700\\ 65.20 5000\\ 65.22 5900\\ 65.25 5500\\ 65.28 4200\\ 65.31 3200\\ 65.35 1800\\ 65.39 1070\\ 65.42 550\\ 65.44 276\\ 65.48 160\\ 65.52 110\\ 65.56 84\\ 65.60 60\\ 65.64 48\\ 65.68 40\\ 65.70 31\\ 65.73 35\\ 65.76 27\\ 65.79 32\\ 65.83 26\\ 65.86 30\\ 65.89 34\\ 65.92 70\\ 65.94 174\\ 65.97 450\\ 66.00 1070\\ 66.03 2500\\ 66.05 6400\\ 66.08 12000\\ 66.11 19000\\ 66.14 27000\\ 66.16 32000\\ 66.18 28000\\ 66.20 20000\\ 66.23 13000\\ 66.26 5500\\ 66.29 2600\\ 66.32 1200\\ 66.36 515\\ 66.40 300\\ 66.44 174\\ 66.48 110\\ 66.52 85\\ 66.56 71\\ 66.60 65\\ 66.64 58\\ 66.69 54\\ 66.74 48\\ 66.79 44\\ 66.84 41\\ 66.89 35\\ 66.94 28\\ 67.00 24\\ 67.05 20\\ 67.10 17\\ 67.15 15\\ 67.20 13\\ 67.25 12\\ 67.30 10\\ 67.35 9\\ 67.40 7\\ 67.45 8\\ 67.50 6\\ 67.55 5.5\\ 67.58 3\\ 67.61 5\\ 67.64 1\\ 67.67 4\\ 67.70 0.3\\ 67.73 5\\ 67.76 2\\ 67.79 4\\ 67.82 0.3\\ 67.85 3\\ 67.88 5\\ 67.91 1\\ 67.94 4\\ 67.97 0.3\\ 68.00 5\\ 68.03 2\\ 68.06 4\\ 68.09 0.3\\ 68.12 3\\ 68.15 5\\ 68.18 1\\ 68.21 4\\ 68.24 6\\ 68.27 2\\ 68.30 5\\ 68.33 3\\ 68.36 6\\ 68.39 4\\ 68.42 7\\ 68.45 5\\ 68.48 8\\ 68.51 6\\ 68.55 9\\ 68.59 11\\ 68.63 13\\ 68.68 15\\ 68.72 18\\ 68.77 12\\ 68.82 22\\ 68.87 35\\ 68.92 50\\ 68.97 100\\ 69.01 250\\ 69.04 500\\ 69.06 1000\\ 69.08 3000\\ 69.10 10000\\ 69.11 40000\\ 69.12 150000\\ 69.13 290000\\ 69.14 120000\\ 69.15 50000\\ 69.17 8000\\ 69.18 1650\\ 69.21 700\\ 69.24 276\\ 69.28 120\\ 69.32 71\\ 69.37 40\\ 69.43 24\\ 69.47 14\\ 69.51 18\\ 69.55 9\\ 69.59 12\\ 69.63 7\\ 69.67 9\\ 69.71 5\\ 69.75 8\\ 69.79 4\\ 69.83 6\\ 69.87 3\\ 69.91 5\\ 69.95 2\\ 70.00 4\\
}\dopA

\pgfplotstableread[row sep=\\]{x y\\
63.55 0.3\\ 63.57 3\\ 63.59 0.3\\ 63.62 2\\ 63.65 0.3\\ 63.68 3\\ 63.71 1\\ 63.74 0.3\\ 63.77 3\\ 63.80 0.3\\ 63.83 2\\ 63.86 4\\ 63.89 0.3\\ 63.92 3\\ 63.95 1\\ 63.98 4\\ 64.01 2\\ 64.03 5\\ 64.05 0.3\\ 64.07 6\\ 64.09 4\\ 64.11 8\\ 64.13 6\\ 64.15 10\\ 64.17 8\\ 64.19 12\\ 64.21 9\\ 64.23 14\\ 64.25 12\\ 64.27 18\\ 64.29 15\\ 64.31 22\\ 64.33 18\\ 64.35 41\\ 64.38 60\\ 64.41 80\\ 64.44 100\\ 64.48 180\\ 64.52 300\\ 64.56 450\\ 64.61 820\\ 64.65 1000\\ 64.69 1150\\ 64.73 1250\\ 64.77 1300\\ 64.80 1200\\ 64.83 1050\\ 64.86 890\\ 64.92 515\\ 64.96 350\\ 65.00 210\\ 65.05 120\\ 65.11 71\\ 65.16 48\\ 65.22 34\\ 65.27 26\\ 65.33 20\\ 65.39 15\\ 65.44 11.5\\ 65.47 8\\ 65.49 3\\ 65.51 10\\ 65.53 6\\ 65.55 12\\ 65.57 8\\ 65.59 13\\ 65.61 14\\ 65.65 18\\ 65.69 22\\ 65.72 28\\ 65.76 45\\ 65.81 71\\ 65.85 150\\ 65.89 276\\ 65.93 550\\ 65.97 1070\\ 66.01 3000\\ 66.05 6400\\ 66.08 11000\\ 66.11 16000\\ 66.14 13000\\ 66.18 10000\\ 66.21 6000\\ 66.25 2600\\ 66.28 1100\\ 66.30 515\\ 66.35 300\\ 66.41 174\\ 66.47 100\\ 66.52 70\\ 66.55 54\\ 66.60 42\\ 66.65 35\\ 66.69 28\\ 66.74 22\\ 66.78 18\\ 66.83 14\\ 66.87 10\\ 66.89 7\\ 66.92 4\\ 66.95 8\\ 66.98 3\\ 67.01 6\\ 67.04 1\\ 67.07 5\\ 67.10 0.3\\ 67.13 4\\ 67.16 2\\ 67.19 5\\ 67.22 0.3\\ 67.25 3\\ 67.28 1\\ 67.31 4\\ 67.34 0.3\\ 67.37 3\\ 67.40 5\\ 67.43 0.3\\ 67.46 4\\ 67.49 1\\ 67.52 3\\ 67.55 0.3\\ 67.58 4\\ 67.61 2\\ 67.64 5\\ 67.67 0.3\\ 67.70 3\\ 67.73 1\\ 67.76 4\\ 67.79 0.3\\ 67.82 3\\ 67.85 5\\ 67.88 1\\ 67.91 4\\ 67.94 0.3\\ 67.97 3\\ 68.00 5\\ 68.03 2\\ 68.06 4\\ 68.09 0.3\\ 68.12 5\\ 68.15 3\\ 68.18 6\\ 68.21 2\\ 68.24 5\\ 68.27 3\\ 68.30 6\\ 68.33 4\\ 68.36 7\\ 68.39 5\\ 68.42 8\\ 68.46 6\\ 68.50 10\\ 68.54 8\\ 68.58 12\\ 68.62 14\\ 68.66 11\\ 68.70 16\\ 68.75 12\\ 68.80 20\\ 68.86 30\\ 68.92 50\\ 68.97 100\\ 69.01 260\\ 69.04 550\\ 69.06 1100\\ 69.08 3000\\ 69.10 11000\\ 69.11 45000\\ 69.12 160000\\ 69.13 300000\\ 69.14 120000\\ 69.15 45000\\ 69.17 9000\\ 69.19 2200\\ 69.20 1000\\ 69.23 400\\ 69.26 110\\ 69.30 50\\ 69.35 25\\ 69.38 18\\ 69.41 2\\ 69.44 12\\ 69.47 8\\ 69.50 5.5\\ 69.53 2\\ 69.56 4\\ 69.59 0.3\\ 69.62 3\\ 69.65 5\\ 69.68 1\\ 69.71 4\\ 69.74 2\\ 69.77 5\\ 69.80 0.3\\ 69.83 3\\ 69.86 5\\ 69.89 2\\ 69.92 4\\ 69.95 1\\ 69.98 3\\ 70.00 2\\
}\dopB

\pgfplotstableread[row sep=\\]{x y\\
63.55 3\\ 63.56 1\\ 63.57 4\\ 63.58 0.3\\ 63.59 5\\ 63.60 2\\ 63.61 4\\ 63.62 1\\ 63.63 5\\ 63.64 2\\ 63.65 3\\ 63.66 0.3\\ 63.67 4\\ 63.68 2\\ 63.69 5\\ 63.70 1\\ 63.71 6\\ 63.72 3\\ 63.73 5\\ 63.74 1\\ 63.75 7\\ 63.76 3\\ 63.77 5\\ 63.78 2\\ 63.79 6\\ 63.80 3\\ 63.81 8\\ 63.82 2\\ 63.83 7\\ 63.84 4\\ 63.85 6\\ 63.86 2\\ 63.87 8\\ 63.88 4\\ 63.89 6\\ 63.90 3\\ 63.91 9\\ 63.92 4\\ 63.93 7\\ 63.94 3\\ 63.95 8\\ 63.96 5\\ 63.97 10\\ 63.98 4\\ 63.99 9\\ 64.01 6\\ 64.03 8\\ 64.05 5\\ 64.07 10\\ 64.09 7\\ 64.11 12\\ 64.13 9\\ 64.15 15\\ 64.17 12\\ 64.19 18\\ 64.21 22\\ 64.24 35\\ 64.27 45\\ 64.30 75\\ 64.33 110\\ 64.36 160\\ 64.39 210\\ 64.43 400\\ 64.47 620\\ 64.51 850\\ 64.56 1070\\ 64.61 1150\\ 64.65 1120\\ 64.69 1070\\ 64.74 950\\ 64.81 820\\ 64.87 600\\ 64.92 470\\ 64.97 320\\ 65.02 210\\ 65.07 140\\ 65.11 92\\ 65.16 60\\ 65.22 37\\ 65.27 26\\ 65.33 18\\ 65.38 13\\ 65.42 9.5\\ 65.44 6\\ 65.46 0.3\\ 65.47 8\\ 65.50 12\\ 65.53 9\\ 65.56 11\\ 65.59 13\\ 65.62 15\\ 65.66 20\\ 65.70 28\\ 65.74 40\\ 65.78 60\\ 65.81 71\\ 65.85 140\\ 65.89 276\\ 65.93 550\\ 65.97 1070\\ 66.01 2500\\ 66.05 5000\\ 66.08 9000\\ 66.11 12500\\ 66.14 11000\\ 66.18 9000\\ 66.21 5500\\ 66.25 2200\\ 66.28 1000\\ 66.30 515\\ 66.36 300\\ 66.44 174\\ 66.50 110\\ 66.55 71\\ 66.62 50\\ 66.69 37\\ 66.74 30\\ 66.79 25\\ 66.85 20\\ 66.90 15\\ 66.96 12\\ 67.02 10\\ 67.08 8\\ 67.14 9\\ 67.20 7\\ 67.26 6\\ 67.30 4\\ 67.31 0.3\\ 67.32 7\\ 67.33 2\\ 67.34 5\\ 67.35 0.3\\ 67.36 6\\ 67.37 3\\ 67.38 8\\ 67.39 0.3\\ 67.40 5\\ 67.41 1\\ 67.42 7\\ 67.43 3\\ 67.44 4\\ 67.45 0.3\\ 67.46 6\\ 67.47 2\\ 67.48 5\\ 67.49 0.3\\ 67.50 7\\ 67.51 3\\ 67.52 4\\ 67.53 0.3\\ 67.54 6\\ 67.55 1\\ 67.56 5\\ 67.57 3\\ 67.58 8\\ 67.59 0.3\\ 67.60 4\\ 67.61 2\\ 67.62 6\\ 67.63 0.3\\ 67.64 5\\ 67.65 3\\ 67.66 7\\ 67.67 1\\ 67.68 4\\ 67.69 0.3\\ 67.70 6\\ 67.71 2\\ 67.72 5\\ 67.73 0.3\\ 67.74 7\\ 67.75 3\\ 67.76 4\\ 67.77 1\\ 67.78 6\\ 67.79 0.3\\ 67.80 5\\ 67.81 2\\ 67.82 8\\ 67.83 0.3\\ 67.84 4\\ 67.85 3\\ 67.86 6\\ 67.87 1\\ 67.88 5\\ 67.89 0.3\\ 67.90 7\\ 67.91 2\\ 67.92 4\\ 67.93 0.3\\ 67.94 6\\ 67.95 3\\ 67.96 5\\ 67.97 1\\ 67.98 7\\ 67.99 0.3\\ 68.00 4\\ 68.01 2\\ 68.02 6\\ 68.03 0.3\\ 68.04 5\\ 68.05 3\\ 68.06 8\\ 68.07 1\\ 68.08 4\\ 68.09 0.3\\ 68.10 6\\ 68.11 2\\ 68.12 5\\ 68.13 0.3\\ 68.14 7\\ 68.15 3\\ 68.16 4\\ 68.17 1\\ 68.18 6\\ 68.19 0.3\\ 68.20 5\\ 68.21 2\\ 68.22 7\\ 68.23 0.3\\ 68.24 4\\ 68.25 3\\ 68.26 6\\ 68.27 1\\ 68.28 5\\ 68.29 0.3\\ 68.30 8\\ 68.31 2\\ 68.32 4\\ 68.33 0.3\\ 68.34 6\\ 68.35 3\\ 68.36 5\\ 68.37 1\\ 68.38 7\\ 68.39 0.3\\ 68.40 4\\ 68.41 2\\ 68.42 6\\ 68.43 0.3\\ 68.44 5\\ 68.45 3\\ 68.46 7\\ 68.47 1\\ 68.48 6\\ 68.49 2\\ 68.50 8\\ 68.51 3\\ 68.52 5\\ 68.53 1\\ 68.54 7\\ 68.55 4\\ 68.56 9\\ 68.57 3\\ 68.58 6\\ 68.59 2\\ 68.60 8\\ 68.61 5\\ 68.62 10\\ 68.63 4\\ 68.64 7\\ 68.65 3\\ 68.66 9\\ 68.67 6\\ 68.68 12\\ 68.69 5\\ 68.70 10\\ 68.72 10\\ 68.76 14\\ 68.80 18\\ 68.86 28\\ 68.92 50\\ 68.97 100\\ 69.01 250\\ 69.04 500\\ 69.06 1000\\ 69.08 3000\\ 69.10 10000\\ 69.11 40000\\ 69.12 150000\\ 69.13 270000\\ 69.14 100000\\ 69.15 40000\\ 69.17 8000\\ 69.19 2000\\ 69.20 1000\\ 69.23 400\\ 69.26 100\\ 69.30 50\\ 69.35 25\\ 69.39 15\\ 69.43 9\\ 69.45 7\\ 69.46 3\\ 69.47 7\\ 69.48 0.3\\ 69.49 5\\ 69.50 2\\ 69.51 6\\ 69.52 0.3\\ 69.53 4\\ 69.54 5\\ 69.55 1\\ 69.56 6\\ 69.57 3\\ 69.58 7\\ 69.59 0.3\\ 69.60 5\\ 69.61 2\\ 69.62 6\\ 69.63 0.3\\ 69.64 4\\ 69.65 3\\ 69.66 7\\ 69.67 1\\ 69.68 5\\ 69.69 0.3\\ 69.70 6\\ 69.71 2\\ 69.72 5\\ 69.73 0.3\\ 69.74 7\\ 69.75 3\\ 69.76 4\\ 69.77 1\\ 69.78 6\\ 69.79 0.3\\ 69.80 5\\ 69.81 2\\ 69.82 7\\ 69.83 0.3\\ 69.84 4\\ 69.85 3\\ 69.86 6\\ 69.87 1\\ 69.88 5\\ 69.89 0.3\\ 69.90 7\\ 69.91 2\\ 69.92 4\\ 69.93 0.3\\ 69.94 6\\ 69.95 3\\ 69.96 5\\ 69.97 1\\ 69.98 6\\ 69.99 0.3\\ 70.00 4\\
}\dopC

\begin{document}
\begin{tikzpicture}
\path[use as bounding box] (0pt,0pt) rectangle (885pt,1131pt);

% ===================== (a) =====================
\begin{axis}[
  scale only axis, ymode=log,
  at={(137pt,651pt)}, anchor=south west,
  width=708pt, height=468pt,
  xmin=63, xmax=70, ymin=3, ymax=1e7,
  axis line style={line width=1.5pt},
  tick align=inside,
  major tick length=10pt, minor tick length=5pt,
  tick style={black, line width=1.1pt},
  xtick={63,64,65,66,67,68,69,70},
  xticklabels={63,64,65,66,67,68,69,70},
  minor xtick={63.5,64.5,65.5,66.5,67.5,68.5,69.5},
  ytick={10,100,1000,10000,100000,1000000,10000000},
  yticklabels={10,100,1K,10K,100K,1M,10M},
  extra y ticks={3,30,300,3000,30000,300000,3000000},
  extra y tick labels={3,3,3,3,3,3,3},
  extra y tick style={major tick length=7pt},
  minor ytick={4,5,6,7,8,9,20,40,50,60,70,80,90,200,400,500,600,700,800,900,2000,4000,5000,6000,7000,8000,9000,20000,40000,50000,60000,70000,80000,90000,200000,400000,500000,600000,700000,800000,900000,2000000,4000000,5000000,6000000,7000000,8000000,9000000},
  xticklabel style={font=\fontsize{24}{24}\selectfont, inner sep=3pt},
  yticklabel style={font=\fontsize{18}{18}\selectfont\bfseries, inner sep=3pt, xshift=-8pt},
  xlabel={2Theta-Omega (°)},
  ylabel={XRD Intensity (counts)},
  xlabel style={at={(axis description cs:0.508,-0.088)}, anchor=center, font=\fontsize{27}{27}\selectfont\bfseries},
  ylabel style={at={(axis description cs:-0.121,0.508)}, anchor=center, font=\fontsize{27}{27}\selectfont\bfseries},
  legend cell align=left,
  legend style={at={(0.633,0.936)}, anchor=north west,
    draw=black, line width=1.2pt, inner sep=2.5pt,
    font=\fontsize{16.5}{16.5}\selectfont\bfseries,
    nodes={inner sep=1.3pt, text height=11.2pt, text depth=3.8pt},
    /tikz/every even column/.append style={column sep=10pt}},
  legend image code/.code={\draw[#1, line width=2.2pt] (2pt,0pt) -- (44pt,0pt);},
]
\addplot[c0, line width=1.6pt, line join=round] table {\snZero};   \addlegendentry{0\% Sn}
\addplot[c1, line width=1.6pt, line join=round] table {\snOne};    \addlegendentry{1\% Sn}
\addplot[c2, line width=1.6pt, line join=round] table {\snTwo};    \addlegendentry{2\%Sn}
\addplot[c3, line width=1.6pt, line join=round] table {\snThree};  \addlegendentry{3\% Sn}
\addplot[c4, line width=1.6pt, line join=round] table {\snFour};   \addlegendentry{4\% Sn}
\addplot[c5, line width=1.6pt, line join=round] table {\snFive};   \addlegendentry{5\% Sn}
\addplot[c6, line width=1.6pt, line join=round] table {\snSix};    \addlegendentry{6\% Sn}
\addplot[c7, line width=1.6pt, line join=round] table {\snSeven};  \addlegendentry{7\% Sn}
\addplot[c8, line width=1.6pt, line join=round] table {\snEight};  \addlegendentry{8\% Sn}
\addplot[c9, line width=1.6pt, line join=round] table {\snNine};   \addlegendentry{9\% Sn}
\addplot[c10, line width=1.6pt, line join=round] table {\snTen};   \addlegendentry{10\% Sn}
\addplot[c12, line width=1.6pt, line join=round] table {\snTwelve};\addlegendentry{12\% Sn}

\node[font=\fontsize{30}{30}\selectfont\bfseries] at (axis cs:63.49,3.5e6) {(a)};
\node[font=\fontsize{20}{20}\selectfont\bfseries] at (axis cs:66.09,5.1e5) {Ge};
\node[font=\fontsize{20}{20}\selectfont\bfseries] at (axis cs:69.15,2.2e6) {Si};
\node[font=\fontsize{21}{21}\selectfont\bfseries] at (axis cs:64.34,6.7e4)
  {Ge\raisebox{-0.35em}{\fontsize{15}{15}\selectfont 1-x}Sn\,\raisebox{-0.35em}{\fontsize{15}{15}\selectfont x}};
\node[font=\fontsize{14.5}{14.5}\selectfont\bfseries] at (axis cs:65.32,6.3e4) {x=1\% to 12\%};
\node[font=\fontsize{14.5}{14.5}\selectfont\bfseries] at (axis cs:64.03,9.1e3) {12\%};
\draw[-{Stealth[length=13pt,width=13pt,inset=4pt]}, line width=2.4pt]
  (axis cs:65.70,2.6e4) -- (axis cs:63.92,2.6e4);
\end{axis}

% ===================== (b) =====================
\begin{axis}[
  scale only axis, ymode=log,
  at={(97pt,59pt)}, anchor=south west,
  width=772pt, height=483pt,
  xmin=63.55, xmax=70, ymin=1, ymax=4.7e5,
  axis line style={line width=1.5pt},
  tick align=inside,
  major tick length=10pt, minor tick length=5pt,
  tick style={black, line width=1.1pt},
  xtick={64,65,66,67,68,69,70},
  xticklabels={64,65,66,67,68,69,70},
  minor xtick={63.75,64.25,64.5,64.75,65.25,65.5,65.75,66.25,66.5,66.75,67.25,67.5,67.75,68.25,68.5,68.75,69.25,69.5,69.75},
  ytick={1,10,100,1000,10000,100000},
  yticklabels={1,10,100,1K,10K,100K},
  extra y ticks={3,30,300,3000,30000,300000},
  extra y tick labels={3,3,3,3,3,3},
  extra y tick style={major tick length=7pt},
  minor ytick={2,4,5,6,7,8,9,20,40,50,60,70,80,90,200,400,500,600,700,800,900,2000,4000,5000,6000,7000,8000,9000,20000,40000,50000,60000,70000,80000,90000,200000,400000},
  xticklabel style={font=\fontsize{24}{24}\selectfont, inner sep=3pt},
  yticklabel style={font=\fontsize{20}{20}\selectfont\bfseries, inner sep=3pt, xshift=-6pt},
  xlabel={2Theta-Omega (°)},
  ylabel={XRD Intensity (counts)},
  xlabel style={at={(axis description cs:0.509,-0.079)}, anchor=center, font=\fontsize{27}{27}\selectfont\bfseries},
  ylabel style={at={(axis description cs:-0.095,0.518)}, anchor=center, font=\fontsize{27}{27}\selectfont\bfseries},
  legend cell align=left,
  legend style={at={(0.531,0.888)}, anchor=north west,
    draw=black, line width=1.2pt, inner sep=2.5pt,
    font=\fontsize{21.5}{21.5}\selectfont,
    nodes={inner sep=1.5pt, text height=13.5pt, text depth=4.2pt},
    /tikz/every even column/.append style={column sep=15pt}},
  legend image code/.code={\draw[#1, line width=2.4pt] (4pt,0pt) -- (60pt,0pt);},
]
\addplot[red, line width=1.8pt, line join=round] table {\dopA};  \addlegendentry{5.5\% n-doped}
\addplot[blue, line width=1.8pt, line join=round] table {\dopB}; \addlegendentry{8.2\% n-doped}
\addplot[gB, line width=1.8pt, line join=round] table {\dopC};   \addlegendentry{10\% n-doped}

\node[font=\fontsize{30}{30}\selectfont\bfseries] at (axis cs:63.99,1.6e5) {(b)};
\node[font=\fontsize{21}{21}\selectfont\bfseries] at (axis cs:66.21,5.2e4) {Ge};
\node[font=\fontsize{21}{21}\selectfont\bfseries] at (axis cs:69.42,1.78e5) {Si};
\node[font=\fontsize{21}{21}\selectfont\bfseries] at (axis cs:64.94,1.4e4)
  {Ge\raisebox{-0.35em}{\fontsize{15}{15}\selectfont 1-x}Sn\,\raisebox{-0.35em}{\fontsize{15}{15}\selectfont x}};
\draw[-{Stealth[length=13pt,width=13pt,inset=4pt]}, line width=2.4pt]
  (axis cs:65.50,8.2e3) -- (axis cs:64.37,8.2e3);
\end{axis}
\end{tikzpicture}
\end{document}
